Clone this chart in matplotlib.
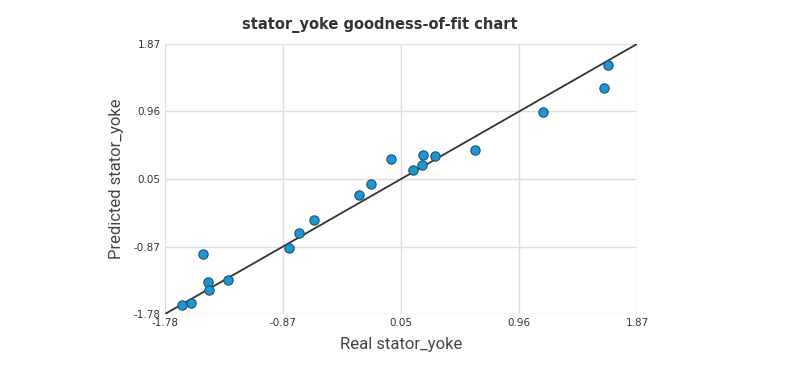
import numpy as np
import matplotlib
matplotlib.use("Agg")
import matplotlib.pyplot as plt

# data
real = [1.644, 1.615, 1.143, 0.617, 0.310, 0.215, -0.034, 0.205, 0.138,
        -0.187, -0.282, -0.630, -0.741, -0.819, -1.484, -1.447, -1.290,
        -1.440, -1.577, -1.646]
predicted = [1.586, 1.271, 0.955, 0.442, 0.361, 0.366, 0.320, 0.239, 0.171,
             -0.022, -0.171, -0.508, -0.679, -0.886, -0.972, -1.342, -1.319,
             -1.458, -1.626, -1.661]
lo, hi = -1.78, 1.87
ticks = np.linspace(lo, hi, 5)
tick_labels = ["-1.78", "-0.87", "0.05", "0.96", "1.87"]

fig = plt.figure(figsize=(7.93, 3.77), dpi=100)
ax = fig.add_axes([0.2081, 0.1671, 0.5952, 0.7162])

ax.plot([lo, hi], [lo, hi], color="#333333", lw=1.3, zorder=2)
ax.scatter(real, predicted, s=45, color="#1e96d6", edgecolor="#22506a",
           linewidth=0.8, zorder=3, clip_on=False)

ax.set_xlim(lo, hi)
ax.set_ylim(lo, hi)
ax.set_xticks(ticks)
ax.set_xticklabels(tick_labels)
ax.set_yticks(ticks)
ax.set_yticklabels(tick_labels)
ax.grid(color="#dddddd", lw=1)
ax.set_axisbelow(True)
for s in ax.spines.values():
    s.set_visible(False)
ax.tick_params(length=0, labelsize=7.5, colors="#333333", pad=3)

ax.set_xlabel("Real stator_yoke", fontsize=12, family="Roboto", color="#444444", labelpad=6)
ax.set_ylabel("Predicted stator_yoke", fontsize=12, family="Roboto", color="#444444", labelpad=7)

fig.text(380 / 793, 1 - 25 / 377, "stator_yoke goodness-of-fit chart",
         ha="center", va="center", fontsize=10.5, fontweight="bold", color="#333333")

fig.savefig("out.png", dpi=100)
